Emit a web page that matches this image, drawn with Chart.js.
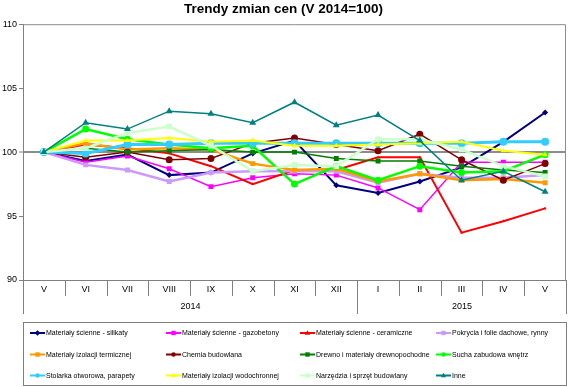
<!DOCTYPE html>
<html>
<head>
<meta charset="utf-8">
<script src="https://cdn.jsdelivr.net/npm/chart.js@4/dist/chart.umd.min.js"></script>
<style>
html, body { margin: 0; padding: 0; background: #fff; }
#wrap { position: relative; width: 570px; height: 387px; }
</style>
</head>
<body>
<div id="wrap"><canvas id="trend_chart" width="570" height="387"></canvas></div>
<script>
// data
const months = ['V', 'VI', 'VII', 'VIII', 'IX', 'X', 'XI', 'XII', 'I', 'II', 'III', 'IV', 'V'];
const yearLabels = ['2014', '2015'];
const yearStarts = [0, 8];
const yTicks = [90, 95, 100, 105, 110];

const seriesNames = [
    'Materiały ścienne - silikaty',
    'Materiały ścienne - gazobetony',
    'Materiały ścienne - ceramiczne',
    'Pokrycia i folie dachowe, rynny',
    'Materiały izolacji termicznej',
    'Chemia budowlana',
    'Drewno i materiały drewnopochodne',
    'Sucha zabudowa wnętrz',
    'Stolarka otworowa, parapety',
    'Materiały izolacji wodochronnej',
    'Narzędzia i sprzęt budowlany',
    'Inne'
];

const silikaty    = [100, 99.3, 99.8, 98.2, 98.4, 99.9, 100.9, 97.4, 96.8, 97.7, 98.8, 100.8, 103.1];
const gazobetony  = [100, 99.2, 99.7, 98.7, 97.3, 98.0, 98.3, 98.2, 97.2, 95.5, 99.2, 99.2, 99.2];
const ceramiczne  = [100, 100.6, 100.3, 99.9, 98.9, 97.5, 98.6, 98.6, 99.6, 99.6, 93.7, 94.6, 95.6];
const pokrycia    = [100, 99.0, 98.6, 97.7, 98.4, 98.5, 98.5, 98.5, 97.6, 98.3, 98.0, 98.0, 98.2];
const termiczna   = [100, 100.7, 100.2, 100.3, 100.2, 99.1, 98.6, 98.7, 97.7, 98.3, 97.8, 97.9, 97.6];
const chemia      = [100, 99.6, 100.0, 99.4, 99.5, 100.7, 101.1, 100.6, 100.1, 101.4, 99.4, 97.8, 99.1];
const drewno      = [100, 100.3, 100.0, 100.1, 100.2, 100.0, 100.0, 99.5, 99.3, 99.3, 98.9, 98.6, 98.4];
const sucha       = [100, 101.8, 101.0, 100.6, 100.3, 100.5, 97.5, 98.9, 97.8, 98.9, 98.4, 98.5, 99.8];
const stolarka    = [100, 99.9, 100.6, 100.6, 100.7, 100.7, 100.7, 100.7, 100.7, 100.7, 100.7, 100.8, 100.8];
const wodochronna = [100, 100.9, 100.9, 101.1, 100.8, 100.9, 100.5, 100.5, 100.6, 100.7, 100.8, 100.1, 99.8];
const narzedzia   = [100, 100.3, 101.5, 102.0, 100.5, 98.5, 99.0, 98.9, 101.0, 101.0, 100.2, 98.9, 98.1];
const inne        = [100, 102.3, 101.8, 103.2, 103.0, 102.3, 103.9, 102.1, 102.9, 100.9, 97.8, 98.5, 96.9];

const seriesValues = [silikaty, gazobetony, ceramiczne, pokrycia, termiczna, chemia,
    drewno, sucha, stolarka, wodochronna, narzedzia, inne];

// styles
const seriesColors = ['#000080', '#ff00ff', '#ff0000', '#cc99ff', '#ff9900', '#800000',
    '#008000', '#00ff00', '#33ccff', '#ffff00', '#ccffcc', '#008080'];
const seriesMarks = ['rectRot', 'rect', 'triangle', 'rect', 'rect', 'circle',
    'rect', 'circle', 'circle', 'triangle', 'rect', 'triangle'];
const seriesRadius = [3, 3.5, 1.8, 3.5, 3.5, 3.5, 3.5, 3.5, 4, 3, 4, 4];
const seriesWidth = [2, 1.5, 2, 2.5, 2.5, 1.5, 1.5, 2.5, 3, 2, 2.5, 1.5];

// helper functions

function drawMark(ctx, style, x, y, r, color){
    ctx.save();
    ctx.fillStyle = color;
    ctx.beginPath();
    if(style == 'circle'){
        ctx.arc(x, y, r, 0, Math.PI * 2);
    }
    else if(style == 'rect'){
        ctx.rect(x - r, y - r, r * 2, r * 2);
    }
    else if(style == 'rectRot'){
        ctx.moveTo(x, y - r * 1.3);
        ctx.lineTo(x + r * 1.3, y);
        ctx.lineTo(x, y + r * 1.3);
        ctx.lineTo(x - r * 1.3, y);
        ctx.closePath();
    }
    else{
        ctx.moveTo(x, y - r * 1.2);
        ctx.lineTo(x + r * 1.2, y + r * 0.8);
        ctx.lineTo(x - r * 1.2, y + r * 0.8);
        ctx.closePath();
    }
    ctx.fill();
    ctx.restore();
}

const decorPlugin = {
    id: 'decor',
    afterDraw(chart){
        const ctx = chart.ctx;
        const area = chart.chartArea;
        const xs = chart.scales.x;
        ctx.save();
        // plot frame top / right
        ctx.strokeStyle = '#8c8c8c';
        ctx.lineWidth = 1;
        ctx.beginPath();
        ctx.moveTo(area.left, area.top + 0.5);
        ctx.lineTo(area.right - 0.5, area.top + 0.5);
        ctx.lineTo(area.right - 0.5, area.bottom);
        ctx.stroke();

        // month and year separators
        const n = months.length;
        const edges = [];
        for(let i = 0; i <= n; i++){
            let px;
            if(i == 0) px = xs.left;
            else if(i == n) px = xs.right - 0.5;
            else px = (xs.getPixelForValue(i - 1) + xs.getPixelForValue(i)) / 2;
            edges.push(Math.round(px) + 0.5);
        }
        ctx.strokeStyle = '#808080';
        for(let i = 0; i <= n; i++){
            const isYear = yearStarts.includes(i) || i == n;
            ctx.beginPath();
            ctx.moveTo(edges[i], area.bottom);
            ctx.lineTo(edges[i], area.bottom + (isYear ? 34 : 16));
            ctx.stroke();
        }
        ctx.fillStyle = '#000';
        ctx.font = '9px Arial, "Liberation Sans"';
        ctx.textAlign = 'center';
        ctx.textBaseline = 'middle';
        yearLabels.forEach((lbl, k) => {
            const from = yearStarts[k];
            const to = k + 1 < yearStarts.length ? yearStarts[k + 1] : n;
            ctx.fillText(lbl, (edges[from] + edges[to]) / 2, area.bottom + 27);
        });

        // legend
        const boxX = 23.5, boxY = 322.5, boxW = 543, boxH = 63;
        ctx.strokeStyle = '#7f7f7f';
        ctx.strokeRect(boxX, boxY, boxW, boxH);
        const colX = [30, 166, 300, 436];
        const rowY = [333, 354.5, 375.5];
        ctx.font = '7px Arial, "Liberation Sans"';
        ctx.textAlign = 'left';
        chart.data.datasets.forEach((ds, i) => {
            const x0 = colX[i % 4];
            const y0 = rowY[Math.floor(i / 4)];
            ctx.strokeStyle = ds.borderColor;
            ctx.lineWidth = 2;
            ctx.beginPath();
            ctx.moveTo(x0, y0);
            ctx.lineTo(x0 + 15, y0);
            ctx.stroke();
            drawMark(ctx, ds.pointStyle, x0 + 7.5, y0, 2.2, ds.borderColor);
            ctx.fillStyle = '#000';
            ctx.fillText(ds.label, x0 + 16, y0 + 0.5);
        });
        ctx.restore();
    }
};

// chart

const datasets = seriesNames.map((name, i) => ({
    label: name,
    data: seriesValues[i],
    borderColor: seriesColors[i],
    backgroundColor: seriesColors[i],
    pointBackgroundColor: seriesColors[i],
    pointBorderColor: seriesColors[i],
    pointBorderWidth: 0,
    pointStyle: seriesMarks[i],
    pointRadius: seriesRadius[i],
    borderWidth: seriesWidth[i],
    tension: 0,
    order: seriesNames.length - i
}));

const config = {
    type: 'line',
    data: { labels: months, datasets: datasets },
    options: {
        responsive: false,
        animation: false,
        layout: { padding: { top: 0, right: 3, bottom: 71, left: 0 } },
        plugins: {
            legend: { display: false },
            tooltip: { enabled: false },
            title: {
                display: true,
                text: 'Trendy zmian cen (V 2014=100)',
                color: '#000',
                font: { family: 'Arial, "Liberation Sans"', size: 13.5, weight: 'bold' },
                padding: { top: 1, bottom: 7 }
            }
        },
        scales: {
            x: {
                type: 'category',
                offset: true,
                grid: { offset: true, drawOnChartArea: false, drawTicks: false },
                border: { display: true, color: '#808080', width: 1 },
                ticks: {
                    autoSkip: false, maxRotation: 0, padding: 4, color: '#000',
                    font: { family: 'Arial, "Liberation Sans"', size: 9 }
                },
                afterFit: (s) => { s.height = 36; }
            },
            y: {
                min: yTicks[0],
                max: yTicks[yTicks.length - 1],
                afterBuildTicks: (s) => { s.ticks = yTicks.map(v => ({ value: v })); },
                grid: {
                    color: (c) => (c.tick && c.tick.value === 100) ? '#8c8c8c' : 'rgba(0,0,0,0)',
                    lineWidth: (c) => (c.tick && c.tick.value === 100) ? 2 : 1,
                    tickColor: '#808080',
                    tickWidth: 1,
                    tickLength: 4
                },
                border: { display: true, color: '#808080', width: 1 },
                ticks: {
                    padding: 2, color: '#000',
                    font: { family: 'Arial, "Liberation Sans"', size: 9 }
                },
                afterFit: (s) => { s.width = 23; }
            }
        }
    },
    plugins: [decorPlugin]
};

window.onload = function() {
    const canvas = document.getElementById('trend_chart');
    new Chart(canvas, config);
};
</script>
</body>
</html>
